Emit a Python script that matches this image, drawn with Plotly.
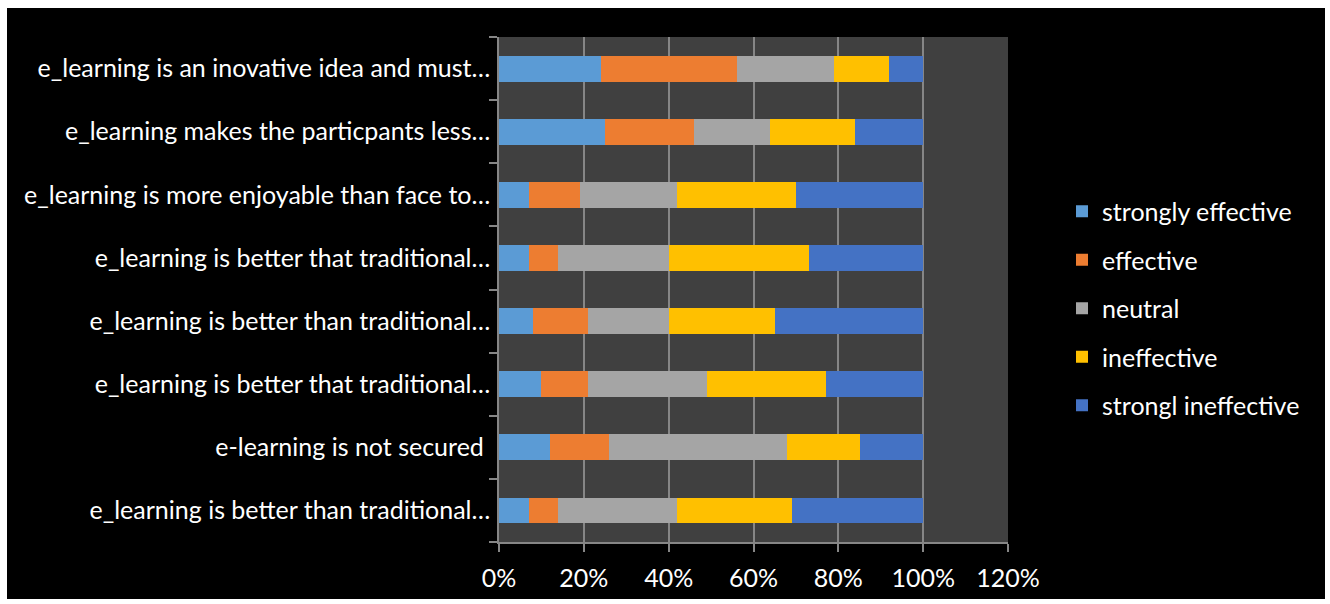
import plotly.graph_objects as go

# categories listed bottom -> top (as in the source chart)
categories = [
    "e_learning is better than traditional…",
    "e-learning is not secured ",
    "e_learning is better that traditional…",
    "e_learning is better than traditional…",
    "e_learning is better that traditional…",
    "e_learning is more enjoyable than face to…",
    "e_learning makes the particpants less…",
    "e_learning is an inovative idea and must…",
]
series_names = ["strongly effective", "effective", "neutral", "ineffective", "strongl ineffective"]
strongly_effective = [7, 12, 10, 8, 7, 7, 25, 24]
effective = [7, 14, 11, 13, 7, 12, 21, 32]
neutral = [28, 42, 28, 19, 26, 23, 18, 23]
ineffective = [27, 17, 28, 25, 33, 28, 20, 13]
strongl_ineffective = [31, 15, 23, 35, 27, 30, 16, 8]
x_ticks = [0, 20, 40, 60, 80, 100, 120]
x_tick_labels = ["0%", "20%", "40%", "60%", "80%", "100%", "120%"]

series_values = [strongly_effective, effective, neutral, ineffective, strongl_ineffective]
colors = ["#5B9BD5", "#ED7D31", "#A5A5A5", "#FFC000", "#4472C4"]

ypos = list(range(len(categories)))

fig = go.Figure()
for name, vals, col in zip(series_names, series_values, colors):
    fig.add_trace(go.Bar(
        y=ypos, x=vals, name=name, orientation="h",
        marker=dict(color=col, line=dict(width=0)),
        width=0.41, legendgroup=name,
    ))

W, H = 1330, 604
L, R, T, B = 499, 322, 37, 62
pw, ph = W - L - R, H - T - B

def px_to_paper_x(px):
    return (px - L) / pw

def px_to_paper_y(py):
    return (H - B - py) / ph

font_family = "Lato, Carlito, Calibri, sans-serif"
fs = 25

fig.update_layout(
    width=W, height=H,
    margin=dict(l=L, r=R, t=T, b=B, pad=0),
    paper_bgcolor="white",
    plot_bgcolor="rgba(0,0,0,0)",
    barmode="stack",
    font=dict(family=font_family, color="white", size=fs),
    showlegend=True,
    legend=dict(
        x=px_to_paper_x(1062), xanchor="left",
        y=px_to_paper_y(308.5), yanchor="middle",
        traceorder="grouped", tracegroupgap=13,
        font=dict(size=fs, color="white"),
        bgcolor="rgba(0,0,0,0)",
    ),
    shapes=[
        dict(type="rect", xref="paper", yref="paper", layer="below",
             x0=px_to_paper_x(7), x1=px_to_paper_x(1325),
             y0=px_to_paper_y(599), y1=px_to_paper_y(8),
             fillcolor="black", line=dict(width=0)),
        dict(type="rect", xref="paper", yref="paper", layer="below",
             x0=0, x1=1, y0=0, y1=1,
             fillcolor="#404040", line=dict(width=0)),
    ],
    xaxis=dict(
        range=[0, 120], tickmode="array", tickvals=x_ticks, ticktext=x_tick_labels,
        showgrid=True, gridcolor="#868686", gridwidth=1.5,
        showline=True, linecolor="#868686", linewidth=1.5,
        ticks="outside", ticklen=8, tickcolor="#868686", tickwidth=1.5,
        ticklabelstandoff=5,
        zeroline=False, tickfont=dict(size=fs, color="white"),
    ),
    yaxis=dict(
        range=[-0.5, 7.5], tickmode="array", tickvals=ypos, ticktext=categories,
        showgrid=False, zeroline=False,
        showline=True, linecolor="#868686", linewidth=1.5,
        ticks="outside", ticklen=2, tickcolor="rgba(0,0,0,0)",
        minor=dict(tickvals=[i - 0.5 for i in range(len(categories) + 1)],
                   ticks="outside", ticklen=8, tickcolor="#868686", tickwidth=1.5,
                   showgrid=False),
        tickfont=dict(size=fs, color="white"),
    ),
)

fig.write_html("out.html")
